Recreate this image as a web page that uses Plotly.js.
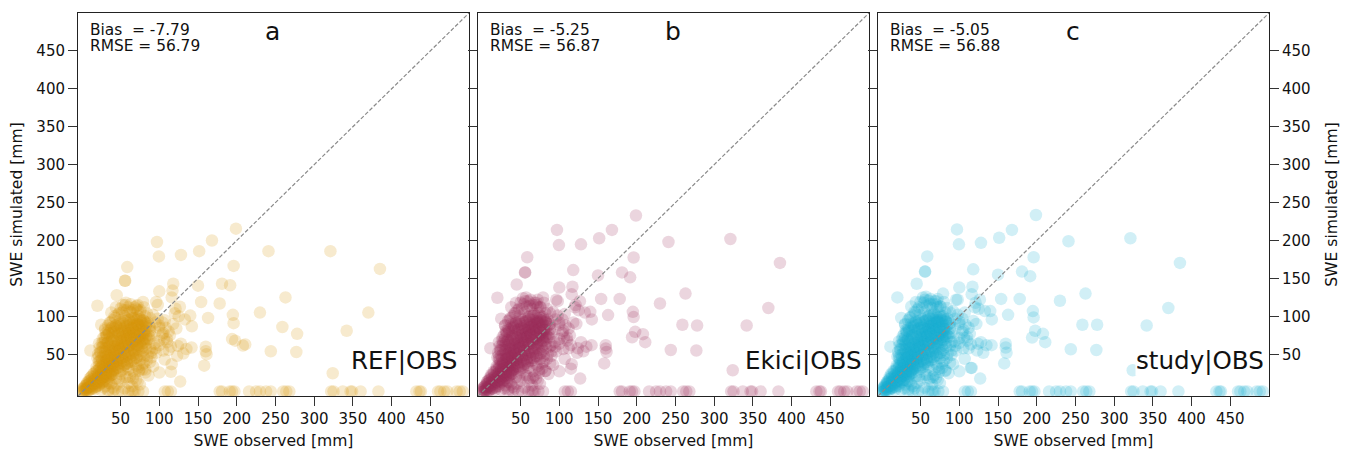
<!DOCTYPE html>
<html><head><meta charset="utf-8">
<script src="https://cdn.plot.ly/plotly-3.0.1.min.js"></script>
<style>html,body{margin:0;padding:0;background:#fff}</style></head>
<body><div id="g" style="width:1348px;height:451px"></div>
<script>
const obsCore=[1,2,3,4,5,6,7,8,9,10,11,12,13,14,15,16,17,18,19,20,
21,22,23,24,25,26,27,28,29,30,31,32,33,34,35,36,37,38,39,40,
2,5,8,11,14,17,20,23,26,29,32,35,38,41,44,47,50,53,56,59,
22,25,28,31,34,37,40,43,46,49,52,55,58,61,64,67,70,73,76,79,
24,27,30,33,36,39,42,45,48,51,54,57,60,63,66,69,72,75,78,81,
26,29,32,35,38,41,44,47,50,53,56,59,62,65,68,71,74,77,80,83,
30,34,37,40,43,46,49,52,55,58,61,64,67,70,73,76,79,82,85,88,
38,44,50,53,57,60,63,66,72,75,80,84,88,92,95,98,100,104,108,112,
45,50,55,60,65,70,75,80,85,90,95,100,105,110,115,62,68,74,82,88,
30,35,40,45,50,55,60,65,70,75,25,34,42,48,58,66,72,78,86,92,
28,33,38,43,48,53,58,63,68,73,31,36,41,46,51,56,61,66,71,76,
35,40,45,50,55,60,65,70,75,80,85,90,95,100,105,26,31,36,41,46];
const simCoreA=[2,1,6,3,9,4,12,6,3,15,8,20,5,14,24,10,18,7,28,12,
22,9,31,16,27,12,36,20,6,33,24,42,15,30,48,22,38,11,44,27,
5,3,10,5,11,4,18,13,19,14,28,18,23,30,18,33,24,30,20,34,
40,45,35,50,42,55,38,48,42,58,45,52,38,50,42,55,45,60,48,65,
52,60,58,65,62,70,60,68,55,72,62,68,60,72,65,70,62,75,68,70,
65,72,75,78,85,80,88,78,85,80,88,78,82,85,78,88,80,85,78,88,
82,88,92,95,98,102,95,105,100,108,95,105,98,110,100,108,95,100,92,85,
105,112,110,115,118,112,116,108,115,106,112,104,98,102,92,97,88,92,85,80,
32,28,36,30,40,35,42,38,48,52,58,62,55,70,60,20,24,28,30,40,
8,12,6,10,14,5,12,8,16,10,3,3,4,18,20,18,14,30,22,34,
30,38,45,52,58,65,70,75,80,88,40,48,55,62,68,74,78,84,90,96,
28,35,40,46,52,58,62,68,72,76,70,74,80,85,78,24,28,33,38,44];
const simCoreB=[3,1,7,2,10,4,14,7,2,17,9,23,5,16,27,11,20,6,31,13,
24,8,34,17,30,13,39,21,5,36,26,46,14,33,52,23,41,10,48,29,
6,2,12,6,13,3,20,15,21,15,30,19,25,33,20,35,26,32,22,36,
44,48,38,54,45,58,41,51,45,61,48,55,41,53,45,58,48,63,51,68,
56,64,62,69,66,74,64,72,58,76,66,72,64,76,69,74,66,79,72,74,
69,76,79,82,90,85,93,82,90,84,93,82,86,89,82,92,84,89,82,92,
88,94,98,100,104,108,101,110,105,113,100,110,103,115,104,112,99,104,96,90,
112,118,118,124,125,120,122,115,122,112,118,110,104,106,96,101,92,96,88,84,
34,30,38,32,42,37,44,40,50,54,60,64,57,72,62,18,22,26,28,38,
9,13,7,11,15,6,14,9,18,11,3,4,5,20,22,19,15,31,24,36,
32,40,48,55,61,68,73,78,84,92,43,51,58,65,71,77,82,88,94,100,
30,37,42,49,55,61,65,71,75,79,73,77,83,89,81,26,30,35,40,46];
const simCoreC=[3,1,7,3,11,4,14,8,2,18,9,24,6,17,28,11,21,6,32,14,
25,8,35,18,31,13,40,22,5,37,27,47,15,34,53,24,42,10,49,30,
6,2,13,6,14,3,21,15,22,16,31,20,26,34,21,36,27,33,23,37,
45,49,39,55,46,59,42,52,46,62,49,56,42,54,46,59,49,64,52,69,
57,65,63,70,67,75,65,73,59,77,67,73,65,77,70,75,67,80,73,75,
70,77,80,83,91,86,94,83,91,85,94,83,87,90,83,93,85,90,83,93,
89,95,99,101,105,109,102,111,106,114,101,111,104,116,105,113,100,105,97,91,
113,119,119,125,126,121,123,116,123,113,119,111,105,107,97,102,93,97,89,85,
35,31,39,33,43,38,45,41,51,55,61,65,58,73,63,18,23,27,29,39,
10,14,8,12,16,6,15,10,19,12,3,4,5,21,23,20,16,32,25,37,
33,41,49,56,62,69,74,79,85,93,44,52,59,66,72,78,83,89,95,101,
31,38,43,50,56,62,66,72,76,80,74,78,84,90,82,27,31,36,41,47];

const obsDense=[20,21,
23,22,24,23,22,
27,26,28,27,26,28,27,
31,30,32,31,30,32,31,30,32,31,
35,34,36,35,34,36,35,34,36,35,34,
39,38,40,39,38,40,39,38,40,39,38,40,
43,42,44,43,42,44,43,42,44,43,42,44,
47,46,48,47,46,48,47,46,48,47,46,48,
51,50,52,51,50,52,51,50,52,51,50,52,
55,54,56,55,54,56,55,54,56,55,54,56,
59,58,60,59,58,60,59,58,60,59,58,60,
63,62,64,63,62,64,63,62,64,63,62,64,
67,66,68,67,66,68,67,66,68,67,66,
71,70,72,71,70,72,71,70,72,71,70,
75,74,76,75,74,76,75,74,76,75,
79,78,80,79,78,80,79,78,80,
83,82,84,83,82,84,83,82,
87,86,88,87,
1,1,4,4,4,7,7,7,7,
10,10,10,10,10,13,13,13,13,13,
16,16,16,16,16,19,19,19,19,19,19,
22,22,22,22,22,22,25,25,25,25,25,25,
28,28,28,28,31,31,31,34,34,37,37,40];
const simDenseA=[45,50,
41,47,53,59,64,
37,43,48,54,59,65,71,
31,36,42,47,53,58,64,69,75,78,
27,33,38,44,49,55,60,66,71,77,81,
28,34,39,45,50,56,61,67,72,78,83,86,
30,35,41,46,52,57,63,68,74,79,84,88,
32,37,43,48,54,59,65,70,76,81,86,90,
34,39,45,50,56,61,67,72,78,83,88,92,
36,41,47,52,58,63,69,74,80,85,90,94,
38,43,49,54,60,65,71,76,82,87,92,96,
40,45,51,56,62,67,73,78,84,89,93,97,
44,49,55,60,66,71,77,82,88,93,98,
46,51,57,62,68,73,79,84,90,95,98,
50,55,61,66,72,77,83,88,93,96,
54,59,65,70,76,81,87,91,94,
58,63,69,74,80,85,90,92,
70,75,81,87,
1,4,1,5,8,2,6,10,13,
3,7,11,15,18,4,8,13,17,21,
6,11,15,20,25,8,13,18,23,28,33,
10,15,20,25,30,35,13,18,23,28,33,38,
15,20,25,30,18,22,26,20,24,22,26,24];
const simDenseB=[46,52,
42,48,55,61,66,
38,44,50,56,61,67,73,
32,37,44,49,55,60,66,71,77,81,
28,34,40,46,51,57,62,68,73,79,84,
29,35,41,47,52,58,63,69,74,80,85,89,
31,36,43,48,54,59,65,70,76,81,87,91,
33,38,45,50,56,61,67,72,78,83,88,93,
35,40,47,52,58,63,69,74,80,85,90,95,
37,42,49,54,60,65,71,76,82,87,92,97,
39,44,51,56,62,67,73,78,84,89,94,99,
41,46,53,58,64,69,75,80,86,91,96,100,
45,50,57,62,68,73,79,84,90,95,100,
47,52,59,64,70,75,81,86,92,97,100,
51,56,63,68,74,79,85,90,95,98,
55,60,67,72,78,83,89,93,96,
59,64,71,76,82,87,92,94,
72,77,83,89,
1,4,2,5,8,2,7,11,14,
3,8,12,16,19,4,9,14,18,22,
6,12,16,21,26,8,14,19,24,29,34,
11,16,21,26,31,36,14,19,24,29,34,39,
16,21,26,31,19,23,27,21,25,23,27,25];
const simDenseC=[47,53,
43,49,56,62,67,
39,45,51,57,62,68,74,
33,38,45,50,56,61,67,72,78,82,
29,35,41,47,52,58,63,69,74,80,85,
30,36,42,48,53,59,64,70,75,81,86,90,
32,37,44,49,55,60,66,71,77,82,88,92,
34,39,46,51,57,62,68,73,79,84,89,94,
36,41,48,53,59,64,70,75,81,86,91,96,
38,43,50,55,61,66,72,77,83,88,93,98,
40,45,52,57,63,68,74,79,85,90,95,100,
42,47,54,59,65,70,76,81,87,92,97,101,
46,51,58,63,69,74,80,85,91,96,101,
48,53,60,65,71,76,82,87,93,98,101,
52,57,64,69,75,80,86,91,96,99,
56,61,68,73,79,84,90,94,97,
60,65,72,77,83,88,93,95,
73,78,84,90,
1,4,2,6,9,3,7,11,14,
4,8,12,17,20,5,9,14,19,23,
7,12,17,22,27,9,14,20,25,30,35,
11,17,22,27,32,37,14,20,25,30,35,40,
16,22,27,32,20,24,28,22,26,24,28,26];

const obsOut=[199,168,97,99.5,128,151.5,241,321,385,196,58.6,55.6,45,118,100,150,181,191.5,263,117,116,154,178,20,230,370,195,196,163,140,142,259,342,278,194,198,211,208,244,277,160,161,160,158,115,100,127,324,
141.6,135,124,131,123,25,11,79,96,56,70.6,126.6,120,107,133,122,113.6,116,107,56,98,72,121,125,106,90,
78,84,90,96,72,80,88,94,100,66,74,82,42,48,54,36,30,62,68,110,104,118,112,128];
const simOutA=[215.6,200,198,179,181,186,186,186,162.6,166.5,165,147,128,143,133,140.5,143,141,125,134,125,119,117,114,105,105,102,91,98,101,87,86,81,77,70,68,63,61.5,54,53,60,50,54,35,27,26,14,25,
59,57,61,51,48,89,55,119,119,115,113.6,112.7,104,95,96,84,75,37,43,147,115,108,110,100,70,55,
36,42,46,52,32,46,58,64,68,28,30,26,100,104,108,92,84,106,112,66,76,90,56,64];
const simOutB=[233,214,214,194,195,203,198,202,170.5,177.6,178,158,142,161,138,154,158,151.5,130,139,129,123,123,124.6,117,111,106,99,101.7,106,96,89,88,88,72.5,79.6,66,76.5,55.7,55,62,53,57.5,38,31,27.5,18,29,
62,60,58,54,52,97,58,125,122,120,118,120,112,103,105,90,75,37,44,158,120,112,115,108,72,62,
38,44,48,54,34,48,60,66,70,28,30,28,104,110,116,96,88,114,118,68,78,92,58,66];
const simOutC=[233.7,214,214.7,195,197,203.6,199,203,170.5,178,179,159,143,162,138,155,159,153,130,139,129,123,123,125,120.6,111,107,98.6,102,107,96,89,88,89,72,81,66,77,56.6,55.7,64,52,59,38,32,27.5,18,29,
62,62,64,52,55,98,60,130,122,122,120,122,112,105,107,90,77,32,44,159,122,112,118,110,72,66,
38,45,49,55,34,49,61,67,71,29,31,28,106,112,118,98,90,116,120,68,79,94,58,66];

const obsZero=[64,68,73,79,107,111,115,178,181,191,194,197,216,225,230,238,244,260,264,268,322,325,337,347,349,360,383,432,436,438,460,463,468,472,484,488,492,40,47,52,60,66,34];
const simZero=[1,1,1,1,1,1,1,1,1,1,1,1,1,1,1,1,1,1,1,1,1,1,1,1,1,1,1,1,1,1,1,1,1,1,1,1,1,1,1,1,1,1,1];

const diagonal=[-5,500];
const tickValues=[50,100,150,200,250,300,350,400,450];
const panelLetters=['a','b','c'];
const runLabels=['REF|OBS','Ekici|OBS','study|OBS'];
const biasText=['Bias  = -7.79','Bias  = -5.25','Bias  = -5.05'];
const rmseText=['RMSE = 56.79','RMSE = 56.87','RMSE = 56.88'];
const colors=['#d9950c','#9c2f58','#1badd4'];
const simCore=[simCoreA,simCoreB,simCoreC];
const simDense=[simDenseA,simDenseB,simDenseC];
const simOut=[simOutA,simOutB,simOutC];

const W=1348,H=451,plotTop=13,plotBottom=396;
const lefts=[78,478,878],pw=391;
const labelRight=[457,862,1264];
const letterX=[272,673,1073];
const FONT='"DejaVu Sans", sans-serif', INK='#111';

const traces=[],ann=[];
const layout={width:W,height:H,margin:{l:0,r:0,t:0,b:0},paper_bgcolor:'#fff',plot_bgcolor:'#fff',
  showlegend:false,font:{family:FONT,color:INK}};

for(let i=0;i<3;i++){
  const s=i?String(i+1):'';
  const xa='x'+s, ya='y'+s;
  traces.push({type:'scatter',mode:'markers',xaxis:xa,yaxis:ya,
    x:obsCore.concat(obsDense,obsOut,obsZero),
    y:simCore[i].concat(simDense[i],simOut[i],simZero),
    marker:{size:12.5,color:colors[i],opacity:0.2,line:{width:0}},hoverinfo:'skip'});
  traces.push({type:'scatter',mode:'lines',xaxis:xa,yaxis:ya,x:diagonal,y:diagonal,
    line:{color:'#8a8a8a',width:1.2,dash:'4px,2px'},hoverinfo:'skip'});
  const common={range:[-5,500],tickmode:'array',tickvals:tickValues,ticks:'outside',ticklen:9,tickwidth:1,
    tickcolor:'#333',linecolor:'#222',linewidth:1,showgrid:false,zeroline:false,
    tickfont:{size:15,family:FONT,color:INK}};
  const titleFont={size:15.6,family:FONT,color:INK};
  layout['xaxis'+s]=Object.assign({},common,{domain:[lefts[i]/W,(lefts[i]+pw)/W],anchor:ya,mirror:true,
    title:{text:'SWE observed [mm]',font:titleFont,standoff:8}});
  const yax=Object.assign({},common,{domain:[1-plotBottom/H,1-plotTop/H],anchor:xa,mirror:true});
  if(i===0){yax.title={text:'SWE simulated [mm]',font:titleFont,standoff:9};}
  if(i===1){yax.showticklabels=false;}
  if(i===2){yax.side='right';yax.mirror='ticks';yax.title={text:'SWE simulated [mm]',font:titleFont,standoff:16};}
  layout['yaxis'+s]=yax;

  const paper=(px,py)=>({xref:'paper',yref:'paper',x:px/W,y:1-py/H,showarrow:false});
  ann.push(Object.assign(paper(lefts[i]+10,30),{text:biasText[i],xanchor:'left',yanchor:'middle',font:{size:15.4,family:FONT,color:INK}}));
  ann.push(Object.assign(paper(lefts[i]+10,46),{text:rmseText[i],xanchor:'left',yanchor:'middle',font:{size:15.4,family:FONT,color:INK}}));
  ann.push(Object.assign(paper(letterX[i],32),{text:panelLetters[i],xanchor:'center',yanchor:'middle',font:{size:25,family:FONT,color:INK}}));
  ann.push(Object.assign(paper(labelRight[i]+1,360),{text:runLabels[i],xanchor:'right',yanchor:'middle',bgcolor:'#fff',borderpad:0,font:{size:24.6,family:FONT,color:INK}}));
}
layout.annotations=ann;
Plotly.newPlot('g',traces,layout,{displayModeBar:false,staticPlot:true});
</script></body></html>
